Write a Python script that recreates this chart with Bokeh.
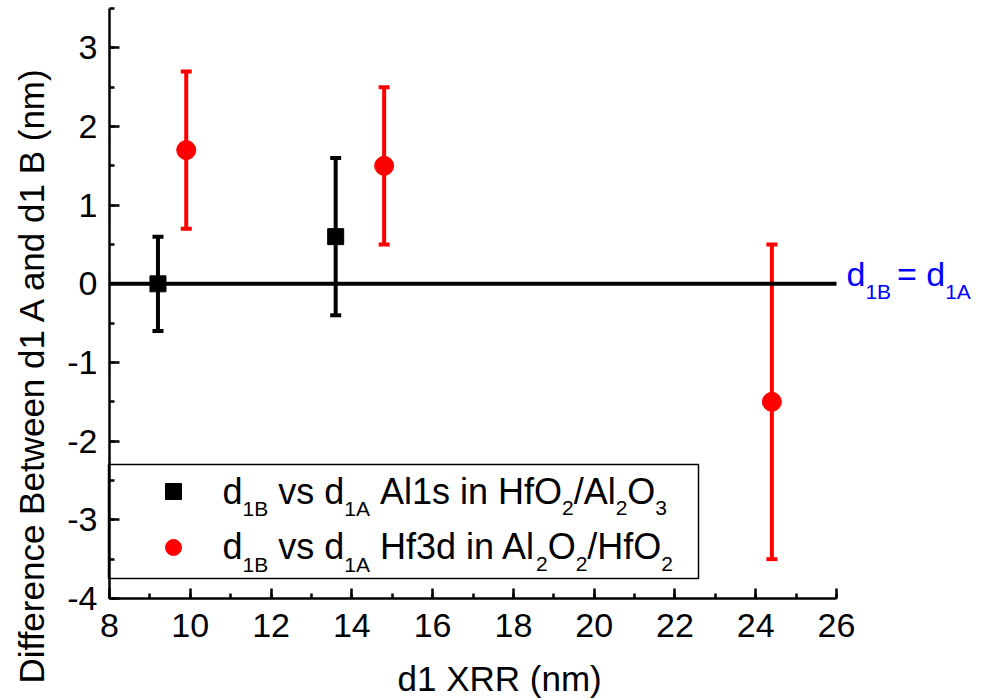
import math
from bokeh.plotting import figure
from bokeh.models import (Range1d, ColumnDataSource, Whisker, TeeHead, Label,
                          BoxAnnotation, Legend, LegendItem, SingleIntervalTicker,
                          CustomJSTickFormatter)
from bokeh.embed import file_html
from bokeh.resources import INLINE

# ---- data ----
al_x = [9.2, 13.6]
al_y = [0.0, 0.6]
al_err = [0.6, 1.0]

hf_x = [9.9, 14.8, 24.4]
hf_y = [1.7, 1.5, -1.5]
hf_err = [1.0, 1.0, 2.0]

ref_level = 0.0

x_label = "d1 XRR (nm)"
y_label = "Difference Between d1 A and d1 B (nm)"

FONT = "Liberation Sans"
X0, X1, Y0, Y1 = 8, 26, -4, 3.5      # axis limits

W, H = 980, 698
# page-pixel geometry of the axes box
FX0, FX1 = 109, 836
FY0, FY1 = 8, 598
PPU_X = (FX1 - FX0) / (X1 - X0)
PPU_Y = (FY1 - FY0) / (Y1 - Y0)
# the plotting frame covers the whole canvas; axes sit at fixed locations
XR = (X0 - FX0 / PPU_X, X0 + (W - FX0) / PPU_X)
YR = (Y1 - (H - FY0) / PPU_Y, Y1 + FY0 / PPU_Y)


def dx(px):
    return X0 + (px - FX0) / PPU_X


def dy(py):
    return Y1 - (py - FY0) / PPU_Y


p = figure(width=W, height=H, x_range=Range1d(*XR), y_range=Range1d(*YR),
           output_backend="svg", toolbar_location=None,
           min_border_left=0, min_border_right=0, min_border_top=0, min_border_bottom=0)
p.outline_line_color = None
p.xgrid.visible = False
p.ygrid.visible = False
p.background_fill_color = "white"
p.border_fill_color = "white"

p.xaxis.ticker = SingleIntervalTicker(interval=2, num_minor_ticks=2)
p.yaxis.ticker = SingleIntervalTicker(interval=1, num_minor_ticks=2)
p.xaxis.bounds = (X0, X1)
p.yaxis.bounds = (Y0, Y1)
p.xaxis.fixed_location = Y0
p.yaxis.fixed_location = X0
fmt = CustomJSTickFormatter(code="return String(Math.round(tick));")
for ax in (p.xaxis[0], p.yaxis[0]):
    ax.formatter = fmt
    ax.axis_line_width = 2.5
    ax.major_tick_line_width = 2.5
    ax.minor_tick_line_width = 2.5
    ax.major_tick_in = 10
    ax.major_tick_out = 0
    ax.minor_tick_in = 5
    ax.minor_tick_out = 0
    ax.major_label_text_font = FONT
    ax.major_label_text_font_size = "34px"
    ax.major_label_text_color = "black"
p.xaxis.major_label_standoff = 15
p.yaxis.major_label_standoff = 12

# reference line d1B = d1A across the axis span
p.line(x=[X0, X1], y=[ref_level, ref_level], line_color="black", line_width=4)

# data
al_src = ColumnDataSource(dict(x=al_x, y=al_y,
                               lo=[v - e for v, e in zip(al_y, al_err)],
                               hi=[v + e for v, e in zip(al_y, al_err)]))
hf_src = ColumnDataSource(dict(x=hf_x, y=hf_y,
                               lo=[v - e for v, e in zip(hf_y, hf_err)],
                               hi=[v + e for v, e in zip(hf_y, hf_err)]))

for src, col in ((al_src, "black"), (hf_src, "#ff0000")):
    p.add_layout(Whisker(source=src, base="x", upper="hi", lower="lo",
                         line_color=col, line_width=4,
                         upper_head=TeeHead(size=11, line_color=col, line_width=4),
                         lower_head=TeeHead(size=11, line_color=col, line_width=4)))

r_al = p.scatter("x", "y", source=al_src, marker="square", size=16,
                 fill_color="black", line_color="black")
r_hf = p.scatter("x", "y", source=hf_src, marker="circle", size=19,
                 fill_color="#ff0000", line_color="#ff0000")

# legend frame and symbols
p.add_layout(BoxAnnotation(left=dx(108), right=dx(698), top=dy(464), bottom=dy(578),
                           fill_alpha=0, line_color="black", line_alpha=1, line_width=1.5))
legend = Legend(items=[LegendItem(label=" ", renderers=[r_al]),
                       LegendItem(label=" ", renderers=[r_hf])],
                location=(FX0 + 44, H - FY1 + 23), glyph_width=40, glyph_height=56,
                spacing=0, padding=0, margin=0, border_line_alpha=0,
                background_fill_alpha=0, label_text_font_size="1px", label_width=1,
                label_height=1, label_standoff=0)
p.add_layout(legend)

# text helpers (baseline given in pixels; anchor at middle of the font box)
MID = 0.3465
CW = {" ": 278, "d": 556, "1": 556, "B": 667, "A": 667, "v": 500, "s": 500, "l": 222,
      "i": 222, "n": 556, "H": 722, "f": 278, "O": 778, "/": 278, "2": 556, "3": 556,
      "=": 584}


def tw(t, size):
    return sum(CW.get(c, 556) for c in t) / 1000.0 * size


def put(text, px, base, size, color):
    p.add_layout(Label(x=dx(px), y=dy(base - MID * size), text=text,
                       text_font=FONT, text_font_size=f"{size}px", text_color=color,
                       text_baseline="middle", text_align="left"))


def rich(segments, px, py_main, py_sub, color, sm, ss):
    x = px
    for text, sub in segments:
        s = ss if sub else sm
        lead = len(text) - len(text.lstrip(" "))
        x += tw(text[:lead], s)
        body = text.lstrip(" ")
        if body.strip():
            put(body.rstrip(" "), x, py_sub if sub else py_main, s, color)
        x += tw(body, s)


# axis titles
put(x_label, 397, 690, 35, "black")
p.add_layout(Label(x=dx(43 - MID * 35), y=dy(683), text=y_label, angle=math.pi / 2,
                   text_font=FONT, text_font_size="35px", text_color="black",
                   text_baseline="middle", text_align="left"))

leg1 = [("d", 0), ("1B", 1), (" vs d", 0), ("1A", 1), (" Al1s in HfO", 0), ("2", 1),
        ("/Al", 0), ("2", 1), ("O", 0), ("3", 1)]
leg2 = [("d", 0), ("1B", 1), (" vs d", 0), ("1A", 1), (" Hf3d in Al", 0), ("2", 1),
        ("O", 0), ("2", 1), ("/HfO", 0), ("2", 1)]
rich(leg1, 222, 503, 515, "black", 36, 21)
rich(leg2, 222, 558, 571, "black", 36, 21)

ref_txt = [("d", 0), ("1B", 1), (" ", 1), ("= d", 0), ("1A", 1)]
rich(ref_txt, 846, 285, 298, "#0000ff", 34, 21)

open("out.html", "w").write(file_html(p, INLINE))
